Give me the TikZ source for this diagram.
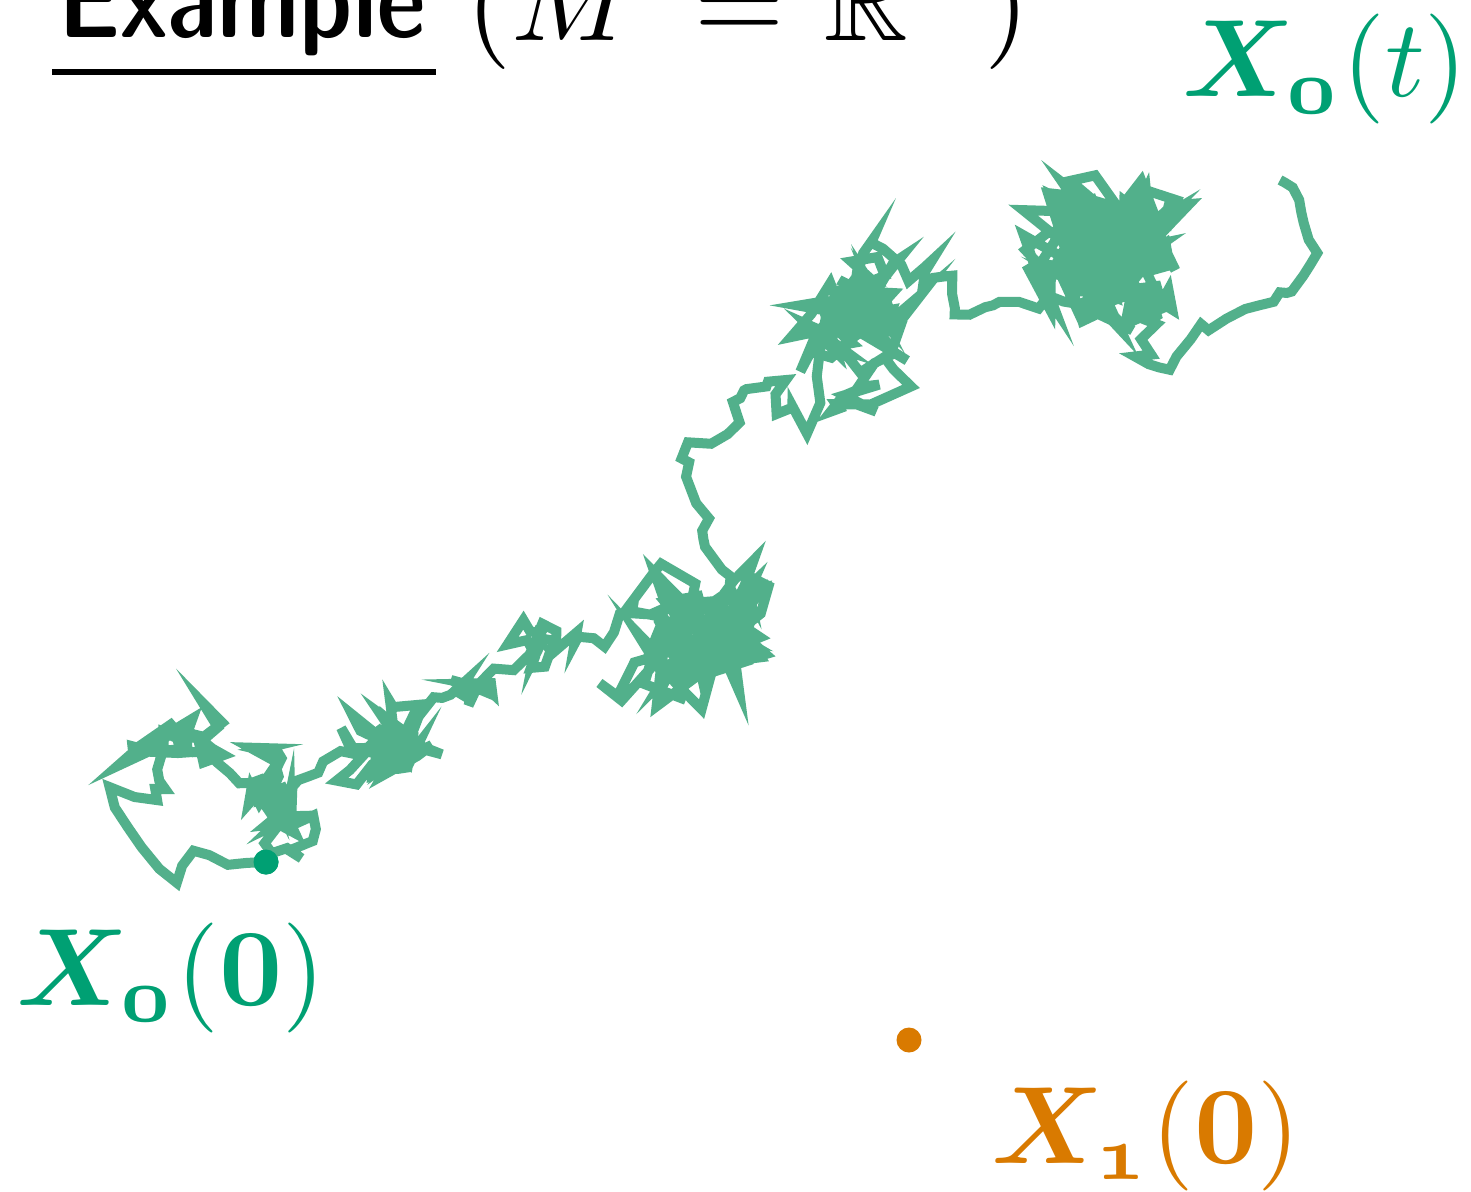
\documentclass[tikz,border=0pt]{standalone}
\usepackage{amsmath,amssymb,bm}
\definecolor{walkgreen}{RGB}{82,176,139}
\definecolor{dotgreen}{RGB}{0,160,115}
\definecolor{dotorange}{RGB}{217,122,0}
\tikzset{
  walk/.style={draw=walkgreen,line width=5pt,line join=miter},
  dotmark/.style={circle,fill=#1,inner sep=0pt,minimum size=12.5pt},
  lbl/.style={anchor=base west,inner sep=0pt,text=#1,scale=5.5,transform shape},
  ttl/.style={anchor=base west,inner sep=0pt,text=black,scale=#1,transform shape},
}
% one segment of the walk: target x, target y, steps, spread
% (mean-reverting jitter around a straight backbone)
\newcommand\wseg[4]{%
  \foreach \k in {1,...,#3}{%
    \pgfmathsetmacro\wtx{0.78*\wox+#4*rand}%
    \pgfmathsetmacro\wty{0.78*\woy+#4*rand}%
    \xdef\wox{\wtx}\xdef\woy{\wty}%
    \pgfmathsetmacro\wnx{\wbx+(#1-\wbx)*\k/#3+\wox}%
    \pgfmathsetmacro\wny{\wby+(#2-\wby)*\k/#3+\woy}%
    \xdef\wpath{\wpath--(\wnx,\wny)}%
  }%
  \xdef\wbx{#1}\xdef\wby{#2}%
}
\begin{document}
\begin{tikzpicture}[x=0.5pt,y=-0.5pt]
\useasboundingbox (0,0) rectangle (1471,1192);
\clip (0,0) rectangle (1471,1192);
\fill[white] (0,0) rectangle (1471,1192);
% title
\node[ttl=5.5] (ex) at (56,38) {\fontseries{sbc}\sffamily Example};
\node[ttl=5.8] (eq) at (464,41) {$(M\mkern4mu=\mkern1.2mu\mathbb{R}^2\mkern3.7mu)$};
\draw[line width=3pt] ([xshift=-2pt,yshift=-17pt]ex.base west) -- ([xshift=4pt,yshift=-17pt]ex.base east);
% random walk
\pgfmathsetseed{23}
\gdef\wbx{266}\gdef\wby{862}\gdef\wox{0}\gdef\woy{0}\gdef\wpath{}
\foreach \tx/\ty/\tn/\ts in {
 235/868/2/4, 205/848/2/6, 180/875/2/6, 150/850/2/8, 110/795/3/10,
 150/810/2/8, 165/785/3/10, 160/750/3/12, 190/740/16/24, 150/770/10/20,
 210/740/4/12, 250/770/3/8, 275/790/3/10, 305/790/60/22, 340/770/3/10,
 370/750/3/10, 405/740/60/24, 440/705/3/10, 470/672/4/12, 495/660/18/18,
 525/645/3/10, 560/635/22/20, 595/650/3/10, 640/620/3/10, 665/625/3/12,
 720/650/140/40, 765/580/4/12, 720/600/6/14, 700/540/4/10, 695/470/5/12,
 690/440/3/8, 740/425/3/8, 735/385/3/8, 770/360/3/10, 800/430/6/14,
 830/335/4/10, 860/300/110/34, 865/255/4/10, 905/280/3/8, 935/270/3/8,
 925/295/2/6, 965/285/3/8, 975/325/3/8, 1000/305/3/8, 1035/300/3/10,
 1090/275/4/14, 1125/205/170/44, 1165/330/12/20, 1150/370/6/14, 1185/380/3/8,
 1200/340/3/8, 1240/325/3/8, 1265/320/2/6, 1295/295/3/6, 1320/250/3/6,
 1300/215/3/5, 1285/185/3/4}{%
  \wseg{\tx}{\ty}{\tn}{\ts}%
}
\node[dotmark=dotgreen] (s0) at (266,862) {};
\coordinate (wend) at (1280,180);
\edef\wdraw{\noexpand\draw[walk] (s0.center)\wpath--(wend);}
\wdraw
\node[dotmark=dotgreen] (s0top) at (266,862) {};
\node[dotmark=dotorange] (s1) at (909,1040) {};
% labels
\node[lbl=dotgreen] (lt) at (1180,97) {$\boldsymbol{X}_{\boldsymbol{\mathnormal{0}}}(t)$};
\node[lbl=dotgreen] (l0) at (14,1005) {$\boldsymbol{X}_{\boldsymbol{\mathnormal{0}}}(\mathbf{0})$};
\node[lbl=dotorange] (l1) at (989,1163) {$\boldsymbol{X}_{\boldsymbol{\mathnormal{1}}}(\mathbf{0})$};
\end{tikzpicture}
\end{document}
